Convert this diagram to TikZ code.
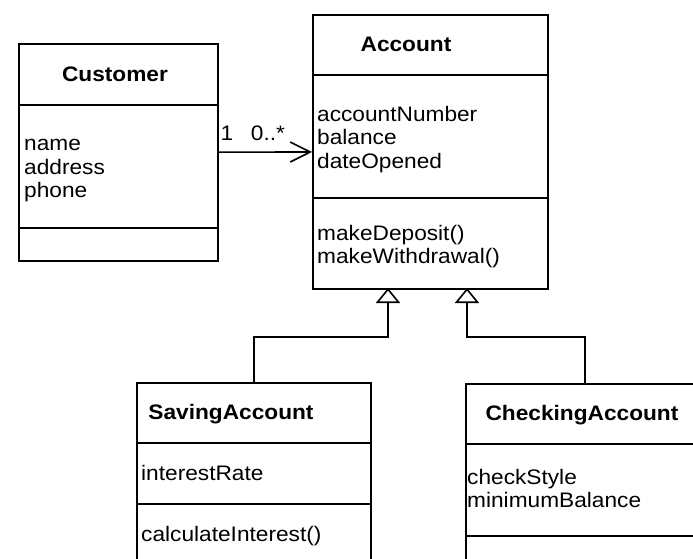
\documentclass[tikz,border=0pt]{standalone}
\usepackage{fontspec}
\setmainfont{Liberation Sans}[FakeStretch=1.08]
\usetikzlibrary{arrows.meta}
\begin{document}
\begin{tikzpicture}[x=1pt,y=-1pt,
  classbox/.style={draw=black,line width=1.6pt,rectangle,inner sep=0pt,anchor=north west},
  divline/.style={line width=1.4pt},
  title/.style={inner sep=0pt,anchor=base,font=\fontsize{21}{24}\selectfont\bfseries},
  attr/.style={inner sep=0pt,anchor=base west,font=\fontsize{21}{24}\selectfont},
  lbl/.style={inner sep=0pt,anchor=base,font=\fontsize{21}{24}\selectfont},
  assoc/.style={line width=1.6pt,-{Straight Barb[length=20pt,width=20pt]}},
  gen/.style={line width=1.6pt,-{Triangle[open,length=15pt,width=24pt]}}
]
\useasboundingbox (0,0) rectangle (693,559);
\fill[white] (0,0) rectangle (693,559);

% Customer
\node[classbox,minimum width=199pt,minimum height=217pt] (customer) at (18,43) {};
\draw[divline] (18,105) -- (217,105);
\draw[divline] (18,228) -- (217,228);
\node[title] (customertitle) at (115,82) {Customer};
\node[attr] (cname) at (24,150) {name};
\node[attr] (caddress) at (24,174) {address};
\node[attr] (cphone) at (24,197) {phone};

% Account
\node[classbox,minimum width=235pt,minimum height=274pt] (account) at (312,14) {};
\draw[divline] (312,75) -- (547,75);
\draw[divline] (312,198) -- (547,198);
\node[title] (accounttitle) at (406,52) {Account};
\node[attr] (anum) at (317,122) {accountNumber};
\node[attr] (abal) at (317,145) {balance};
\node[attr] (adate) at (317,168) {dateOpened};
\node[attr] (adep) at (317,240) {makeDeposit()};
\node[attr] (awd) at (317,263) {makeWithdrawal()};

% SavingAccount
\node[classbox,minimum width=234pt,minimum height=200pt] (saving) at (136,382) {};
\draw[divline] (136,443) -- (370,443);
\draw[divline] (136,504) -- (370,504);
\node[title] (savingtitle) at (231,419) {SavingAccount};
\node[attr] (srate) at (141,480) {interestRate};
\node[attr] (scalc) at (141,541) {calculateInterest()};

% CheckingAccount
\node[classbox,minimum width=238pt,minimum height=200pt] (checking) at (465,383) {};
\draw[divline] (465,444) -- (703,444);
\draw[divline] (465,536) -- (703,536);
\node[title] (checkingtitle) at (582,420) {CheckingAccount};
\node[attr] (cstyle) at (467,484) {checkStyle};
\node[attr] (cminbal) at (467,507) {minimumBalance};

% Association
\draw[assoc] (customer) -- (account);
\node[lbl] (mult1) at (227,140) {1};
\node[lbl] (mult2) at (268,140) {0..*};

% Generalizations
\coordinate (t1) at (388,288);
\coordinate (t2) at (467,288);
\draw[gen] (saving.north) |- (388,337) -- (t1);
\draw[gen] (checking.north) |- (467,337) -- (t2);
\end{tikzpicture}
\end{document}
